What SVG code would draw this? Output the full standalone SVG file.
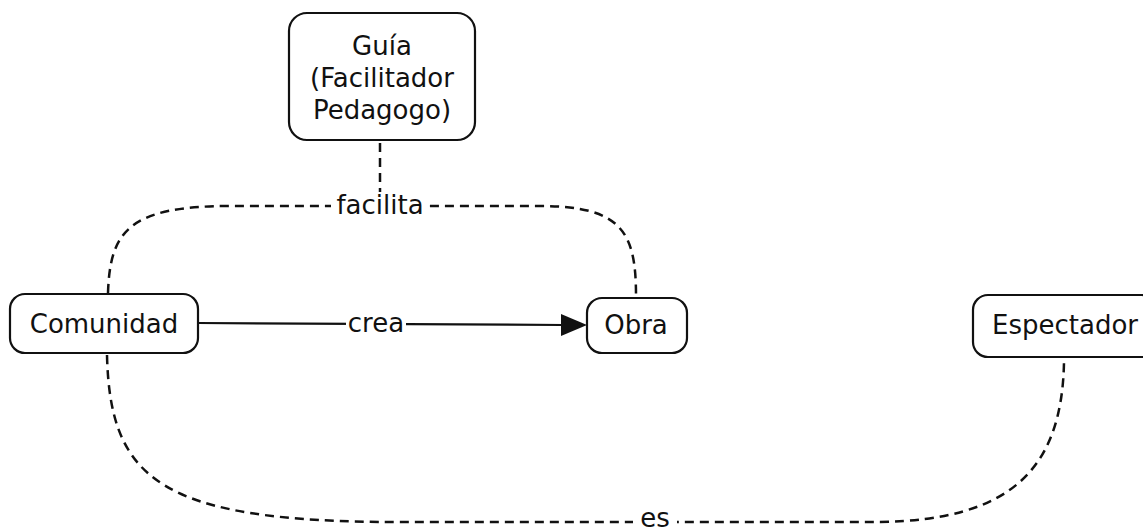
<svg xmlns="http://www.w3.org/2000/svg" width="1143" height="531" viewBox="0 0 1143 531">
<style>
.box{fill:#fff;stroke:#111;stroke-width:2.2}
.t{font-family:"DejaVu Sans",Verdana,sans-serif;font-size:26px;fill:#111;text-anchor:middle}
.dash{fill:none;stroke:#111;stroke-width:2.5;stroke-dasharray:9 6}
.solid{fill:none;stroke:#111;stroke-width:2.2}
.lbg{fill:#fff}
</style>
<g id="connectors">
<path class="dash" d="M380,143 L380,196"/>
<path class="dash" d="M108,293 C110,232 128,206 230,206 L540,206 C622,206 636,232 636,296"/>
<path class="dash" d="M107,355 C110,480 160,522 400,522 L880,522 C1010,520 1062,470 1064,362"/>
<path class="solid" d="M198,323 L563,325"/>
<path d="M561,314 L587,325 L561,336 Z" fill="#111"/>
</g>
<g id="label-facilita">
<rect class="lbg" x="331" y="192" width="98" height="26"/>
<text class="t" x="380" y="214">facilita</text>
</g>
<g id="label-crea">
<rect class="lbg" x="346" y="310" width="60" height="26"/>
<text class="t" x="376" y="332">crea</text>
</g>
<g id="label-es">
<rect class="lbg" x="633" y="509" width="44" height="22"/>
<text class="t" x="655" y="527">es</text>
</g>
<g id="node-guia">
<rect class="box" x="289" y="13" width="186" height="127" rx="18"/>
<text class="t" x="382" y="55">Guía</text>
<text class="t" x="382" y="87">(Facilitador</text>
<text class="t" x="382" y="119">Pedagogo)</text>
</g>
<g id="node-comunidad">
<rect class="box" x="10" y="294" width="188" height="59" rx="15"/>
<text class="t" x="104" y="333">Comunidad</text>
</g>
<g id="node-obra">
<rect class="box" x="587" y="298" width="100" height="55" rx="15"/>
<text class="t" x="636" y="334">Obra</text>
</g>
<g id="node-espectador">
<rect class="box" x="973" y="295" width="184" height="62" rx="15"/>
<text class="t" x="1065" y="334">Espectador</text>
</g>
</svg>
